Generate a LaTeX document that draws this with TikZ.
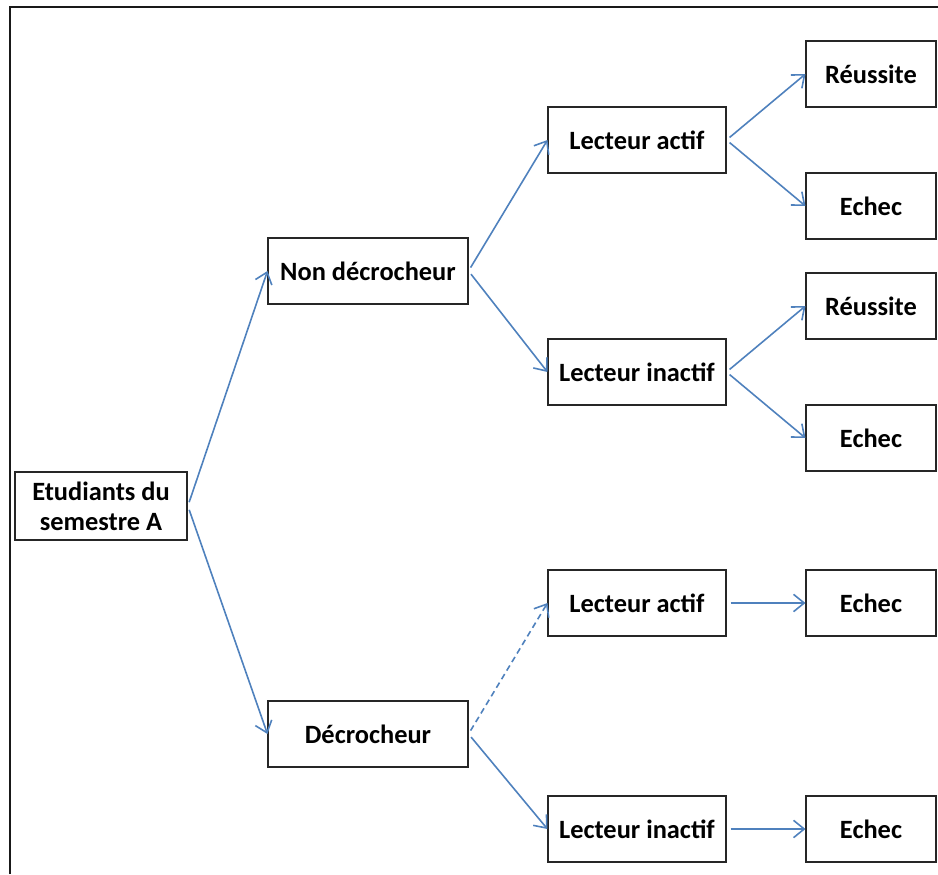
\documentclass[tikz,border=0pt]{standalone}
\usepackage{fontspec}
\setmainfont{Carlito}
\usetikzlibrary{arrows.meta}
\definecolor{lienbleu}{RGB}{79,129,189}

\begin{document}
\begin{tikzpicture}[x=0.75pt,y=-0.75pt,
    box/.style={draw=black!85,line width=1.3pt,inner sep=0pt,align=center,
        font=\fontsize{19.8}{22.5}\selectfont\bfseries,minimum height=49.5pt},
    fleche/.style={draw=lienbleu,line width=1.2pt,shorten <=3pt,
        -{Straight Barb[length=8pt,width=13pt]}}]
    \useasboundingbox (0,0) rectangle (938,874);
    \draw[line width=2pt,black!90] (10,874) -- (10,7) -- (938,7);

    % racine et premier niveau
    \node[box,minimum width=129pt,minimum height=51pt] (etud) at (101,506) {Etudiants du\\semestre A};
    \node[box,minimum width=149.5pt] (nondec) at (368,271) {Non d\'ecrocheur};
    \node[box,minimum width=149.5pt] (dec) at (368,734) {D\'ecrocheur};

    % lecteurs
    \foreach \n/\y/\t in {la1/140/Lecteur actif,li1/372/Lecteur inactif,la2/603/Lecteur actif,li2/829/Lecteur inactif}
        \node[box,minimum width=133pt] (\n) at (637,\y) {\t};

    % resultats
    \foreach \n/\y/\t in {r1/74/R\'eussite,e1/206/Echec,r2/306/R\'eussite,e2/438/Echec,e3/603/Echec,e4/829/Echec}
        \node[box,minimum width=97pt] (\n) at (871,\y) {\t};

    \foreach \a/\b in {etud/nondec,etud/dec,nondec/la1,nondec/li1,dec/li2,la1/r1,la1/e1,li1/r2,li1/e2,la2/e3,li2/e4}
        \draw[fleche] (\a.east) -- (\b.west);
    \draw[fleche,dash pattern=on 4.5pt off 3pt] (dec.east) -- (la2.west);
\end{tikzpicture}
\end{document}
